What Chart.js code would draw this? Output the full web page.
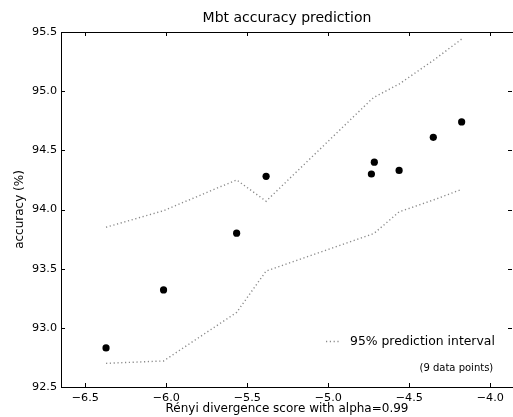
<!DOCTYPE html>
<html>
<head>
<meta charset="utf-8">
<script src="https://cdn.jsdelivr.net/npm/chart.js@4/dist/chart.umd.min.js"></script>
<style>
  html, body { margin: 0; padding: 0; background: #ffffff; overflow: hidden; }
  canvas { display: block; }
</style>
</head>
<body>
<canvas id="c" width="513" height="417"></canvas>
<script>
// ---- data ----
const xScores  = [-6.372, -6.017, -5.566, -5.384, -4.734, -4.716, -4.563, -4.352, -4.177];
const accuracy = [92.83, 93.32, 93.80, 94.28, 94.30, 94.40, 94.33, 94.61, 94.74];
const upperPI  = [93.85, 93.99, 94.25, 94.07, 94.93, 94.95, 95.06, 95.26, 95.44];
const lowerPI  = [92.70, 92.72, 93.13, 93.48, 93.79, 93.80, 93.98, 94.08, 94.17];
const xTickValues = [-6.5, -6.0, -5.5, -5.0, -4.5, -4.0];
const yTickValues = [92.5, 93.0, 93.5, 94.0, 94.5, 95.0, 95.5];

const titleText = 'Mbt accuracy prediction';
const xLabel = 'Rényi divergence score with alpha=0.99';
const yLabel = 'accuracy (%)';
const legendText = '95% prediction interval';
const noteText = '(9 data points)';

const FONT = '"DejaVu Sans", sans-serif';
const PI_COLOR = '#8a8a8a';

const toPts = (xs, ys) => xs.map((x, i) => ({ x: x, y: ys[i] }));
const fmt = v => (v < 0 ? '\u2212' : '') + Math.abs(v).toFixed(1);

const framePlugin = {
  id: 'frame',
  afterDraw(chart) {
    const { ctx, chartArea: a, scales } = chart;
    const xs = scales.x, ys = scales.y;
    ctx.save();
    // spines
    ctx.strokeStyle = '#000';
    ctx.lineWidth = 1;
    ctx.strokeRect(Math.round(a.left) + 0.5, Math.round(a.top) + 0.5,
                   Math.round(a.right - a.left), Math.round(a.bottom - a.top));
    // inward ticks on all sides
    const tl = 4;
    ctx.beginPath();
    xTickValues.forEach(v => {
      const px = Math.round(xs.getPixelForValue(v)) + 0.5;
      ctx.moveTo(px, a.bottom); ctx.lineTo(px, a.bottom - tl);
      ctx.moveTo(px, a.top); ctx.lineTo(px, a.top + tl);
    });
    yTickValues.forEach(v => {
      const py = Math.round(ys.getPixelForValue(v)) + 0.5;
      ctx.moveTo(a.left, py); ctx.lineTo(a.left + tl, py);
      ctx.moveTo(a.right - 1, py); ctx.lineTo(a.right - 1 - tl, py);
    });
    ctx.stroke();

    // title centred over the axes
    ctx.fillStyle = '#000';
    ctx.font = '14px ' + FONT;
    ctx.textAlign = 'center';
    ctx.textBaseline = 'middle';
    ctx.fillText(titleText, (a.left + a.right) / 2, 18.5);

    // legend
    ctx.strokeStyle = PI_COLOR;
    ctx.lineWidth = 1.4;
    ctx.setLineDash([1.2, 2.6]);
    ctx.beginPath();
    ctx.moveTo(326, 341.5); ctx.lineTo(340, 341.5);
    ctx.stroke();
    ctx.setLineDash([]);
    ctx.font = '12.4px ' + FONT;
    ctx.textAlign = 'left';
    ctx.fillText(legendText, 350, 341.5);
    ctx.font = '10px ' + FONT;
    ctx.fillText(noteText, 419.5, 368.5);
    ctx.restore();
  }
};

new Chart(document.getElementById('c'), {
  type: 'scatter',
  data: {
    datasets: [
      {
        label: 'accuracy',
        data: toPts(xScores, accuracy),
        backgroundColor: '#000',
        borderColor: '#000',
        pointRadius: 3.6,
        pointBorderWidth: 0,
        showLine: false
      },
      {
        label: legendText,
        data: toPts(xScores, upperPI),
        showLine: true,
        borderColor: PI_COLOR,
        borderWidth: 1.4,
        borderDash: [1.2, 2.6],
        pointRadius: 0,
        fill: false,
        tension: 0
      },
      {
        label: legendText + ' (lower)',
        data: toPts(xScores, lowerPI),
        showLine: true,
        borderColor: PI_COLOR,
        borderWidth: 1.4,
        borderDash: [1.2, 2.6],
        pointRadius: 0,
        fill: false,
        tension: 0
      }
    ]
  },
  options: {
    responsive: false,
    animation: false,
    devicePixelRatio: 1,
    layout: { autoPadding: false, padding: { top: 32, right: 0, left: 0, bottom: 0 } },
    plugins: {
      legend: { display: false },
      title: { display: false },
      tooltip: { enabled: false }
    },
    scales: {
      x: {
        type: 'linear',
        min: -6.65,
        max: -3.86,
        afterFit(scale) { scale.height = 30; scale.paddingLeft = 0; scale.paddingRight = 0; },
        afterBuildTicks(scale) { scale.ticks = xTickValues.map(v => ({ value: v })); },
        grid: { display: false, drawTicks: false },
        border: { display: false },
        ticks: {
          padding: 4,
          color: '#000',
          font: { family: FONT, size: 11.2 },
          callback: v => fmt(v),
          maxRotation: 0,
          autoSkip: false
        },
        title: {
          display: true,
          text: xLabel,
          color: '#000',
          font: { family: FONT, size: 12 },
          padding: { top: 0, bottom: 1 }
        }
      },
      y: {
        type: 'linear',
        min: 92.5,
        max: 95.5,
        afterFit(scale) { scale.width = 61; scale.paddingTop = 0; scale.paddingBottom = 0; },
        afterBuildTicks(scale) { scale.ticks = yTickValues.map(v => ({ value: v })); },
        grid: { display: false, drawTicks: false },
        border: { display: false },
        ticks: {
          padding: 4,
          color: '#000',
          font: { family: FONT, size: 11.2 },
          callback: v => fmt(v),
          autoSkip: false
        },
        title: {
          display: true,
          text: yLabel,
          color: '#000',
          font: { family: FONT, size: 12 },
          padding: { top: 13, bottom: 0 }
        }
      }
    }
  },
  plugins: [framePlugin]
});
</script>
</body>
</html>
